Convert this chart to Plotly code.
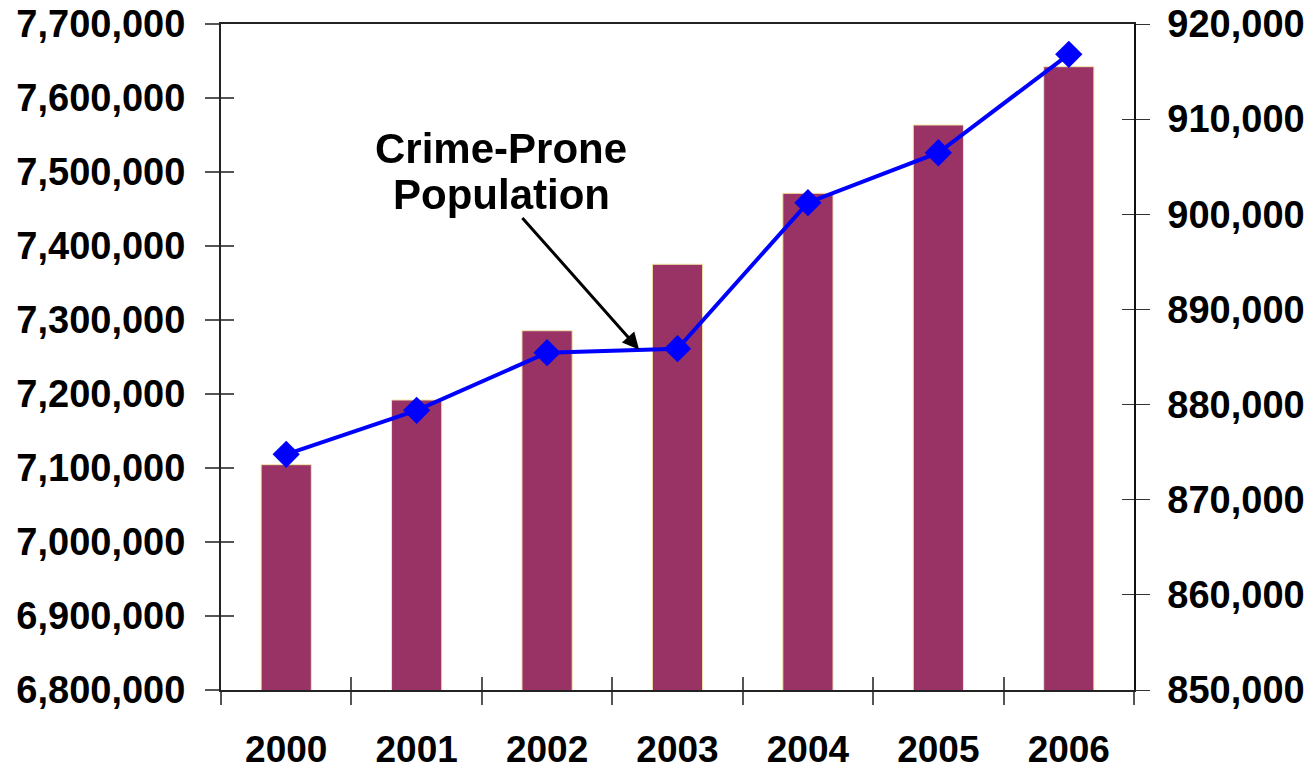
import plotly.graph_objects as go

years = ["2000", "2001", "2002", "2003", "2004", "2005", "2006"]
total_population = [7104500, 7191900, 7285500, 7375300, 7471200, 7563500, 7642300]
crime_prone_population = [874770, 879400, 885450, 885870, 901220, 906470, 916815]
left_ticks = [6800000, 6900000, 7000000, 7100000, 7200000, 7300000, 7400000, 7500000, 7600000, 7700000]
right_ticks = [850000, 860000, 870000, 880000, 890000, 900000, 910000, 920000]

FONT = "Liberation Sans, Arial, sans-serif"
ytickfont = dict(family=FONT, size=38, color="black", weight="bold")
xtickfont = dict(family=FONT, size=37, color="black", weight="bold")

fig = go.Figure()
fig.add_trace(go.Bar(
    x=years, y=total_population, width=0.385,
    marker=dict(color="#993366", line=dict(color="#F2E6A8", width=1)),
    xaxis="x", yaxis="y", showlegend=False, hoverinfo="skip"))
fig.add_trace(go.Scatter(
    x=years, y=crime_prone_population, mode="lines+markers",
    line=dict(color="#0000FF", width=4),
    marker=dict(symbol="diamond", size=21, color="#0000FF"),
    xaxis="x", yaxis="y2", showlegend=False, hoverinfo="skip"))
# invisible helper traces so the inside-tick overlay axes are drawn
fig.add_trace(go.Scatter(x=years, y=total_population, mode="markers", opacity=0,
                         xaxis="x2", yaxis="y3", showlegend=False, hoverinfo="skip"))
fig.add_trace(go.Scatter(x=years, y=crime_prone_population, mode="markers", opacity=0,
                         xaxis="x2", yaxis="y4", showlegend=False, hoverinfo="skip"))

ax_line = "#222222"
fig.update_layout(
    width=1315, height=769,
    margin=dict(l=221, r=181, t=24, b=79, autoexpand=False),
    plot_bgcolor="white", paper_bgcolor="white",
    xaxis=dict(type="category", categoryorder="array", categoryarray=years,
               range=[-0.5, 6.5], showgrid=False, showline=True, linecolor=ax_line,
               linewidth=2, mirror=True, ticks="outside", tickson="boundaries",
               ticklen=13, tickwidth=1.5, tickcolor="#555555",
               tickfont=xtickfont, ticklabelstandoff=26, automargin=False),
    xaxis2=dict(type="category", categoryorder="array", categoryarray=years,
                range=[-0.5, 6.5], overlaying="x", anchor="y", side="bottom",
                showgrid=False, showline=False, ticks="inside", tickson="boundaries",
                ticklen=13, tickwidth=1.5, tickcolor="#555555",
                showticklabels=False, automargin=False),
    yaxis=dict(range=[6800000, 7700000], tickvals=left_ticks, tickformat=",d",
               showgrid=False, showline=True, linecolor=ax_line, linewidth=2,
               ticks="outside", ticklen=14, tickwidth=1.5, tickcolor="#555555",
               tickfont=ytickfont, ticklabelstandoff=12,
               automargin=False, zeroline=False),
    yaxis3=dict(range=[6800000, 7700000], tickvals=left_ticks, overlaying="y",
                side="left", anchor="x", showgrid=False, showline=False,
                ticks="inside", ticklen=13, tickwidth=1.5, tickcolor="#555555",
                showticklabels=False, automargin=False, zeroline=False),
    yaxis2=dict(range=[850000, 920000], tickvals=right_ticks, tickformat=",d",
                overlaying="y", side="right", anchor="x",
                showgrid=False, showline=True, linecolor="#111111", linewidth=1.5,
                ticks="outside", ticklen=14, tickwidth=1.2, tickcolor="#333333",
                tickfont=ytickfont, ticklabelstandoff=10,
                automargin=False, zeroline=False),
    yaxis4=dict(range=[850000, 920000], tickvals=right_ticks, overlaying="y",
                side="right", anchor="x", showgrid=False, showline=False,
                ticks="inside", ticklen=12, tickwidth=1.2, tickcolor="#333333",
                showticklabels=False, automargin=False, zeroline=False),
)

# arrow pointing at the crime-prone population line
fig.add_annotation(x=2.705, y=885800, xref="x", yref="y2", text="",
                   showarrow=True, arrowhead=2, arrowsize=1.1, arrowwidth=3,
                   arrowcolor="black", ax=-118, ay=-133, axref="pixel", ayref="pixel")
fig.add_annotation(x=0.3067, y=(690 - 148) / 666, xref="paper", yref="paper",
                   text="<b>Crime-Prone</b>", showarrow=False,
                   font=dict(family=FONT, size=42, color="black"),
                   xanchor="center", yanchor="middle")
fig.add_annotation(x=0.3067, y=(690 - 194) / 666, xref="paper", yref="paper",
                   text="<b>Population</b>", showarrow=False,
                   font=dict(family=FONT, size=42, color="black"),
                   xanchor="center", yanchor="middle")

fig.write_html("out.html")
